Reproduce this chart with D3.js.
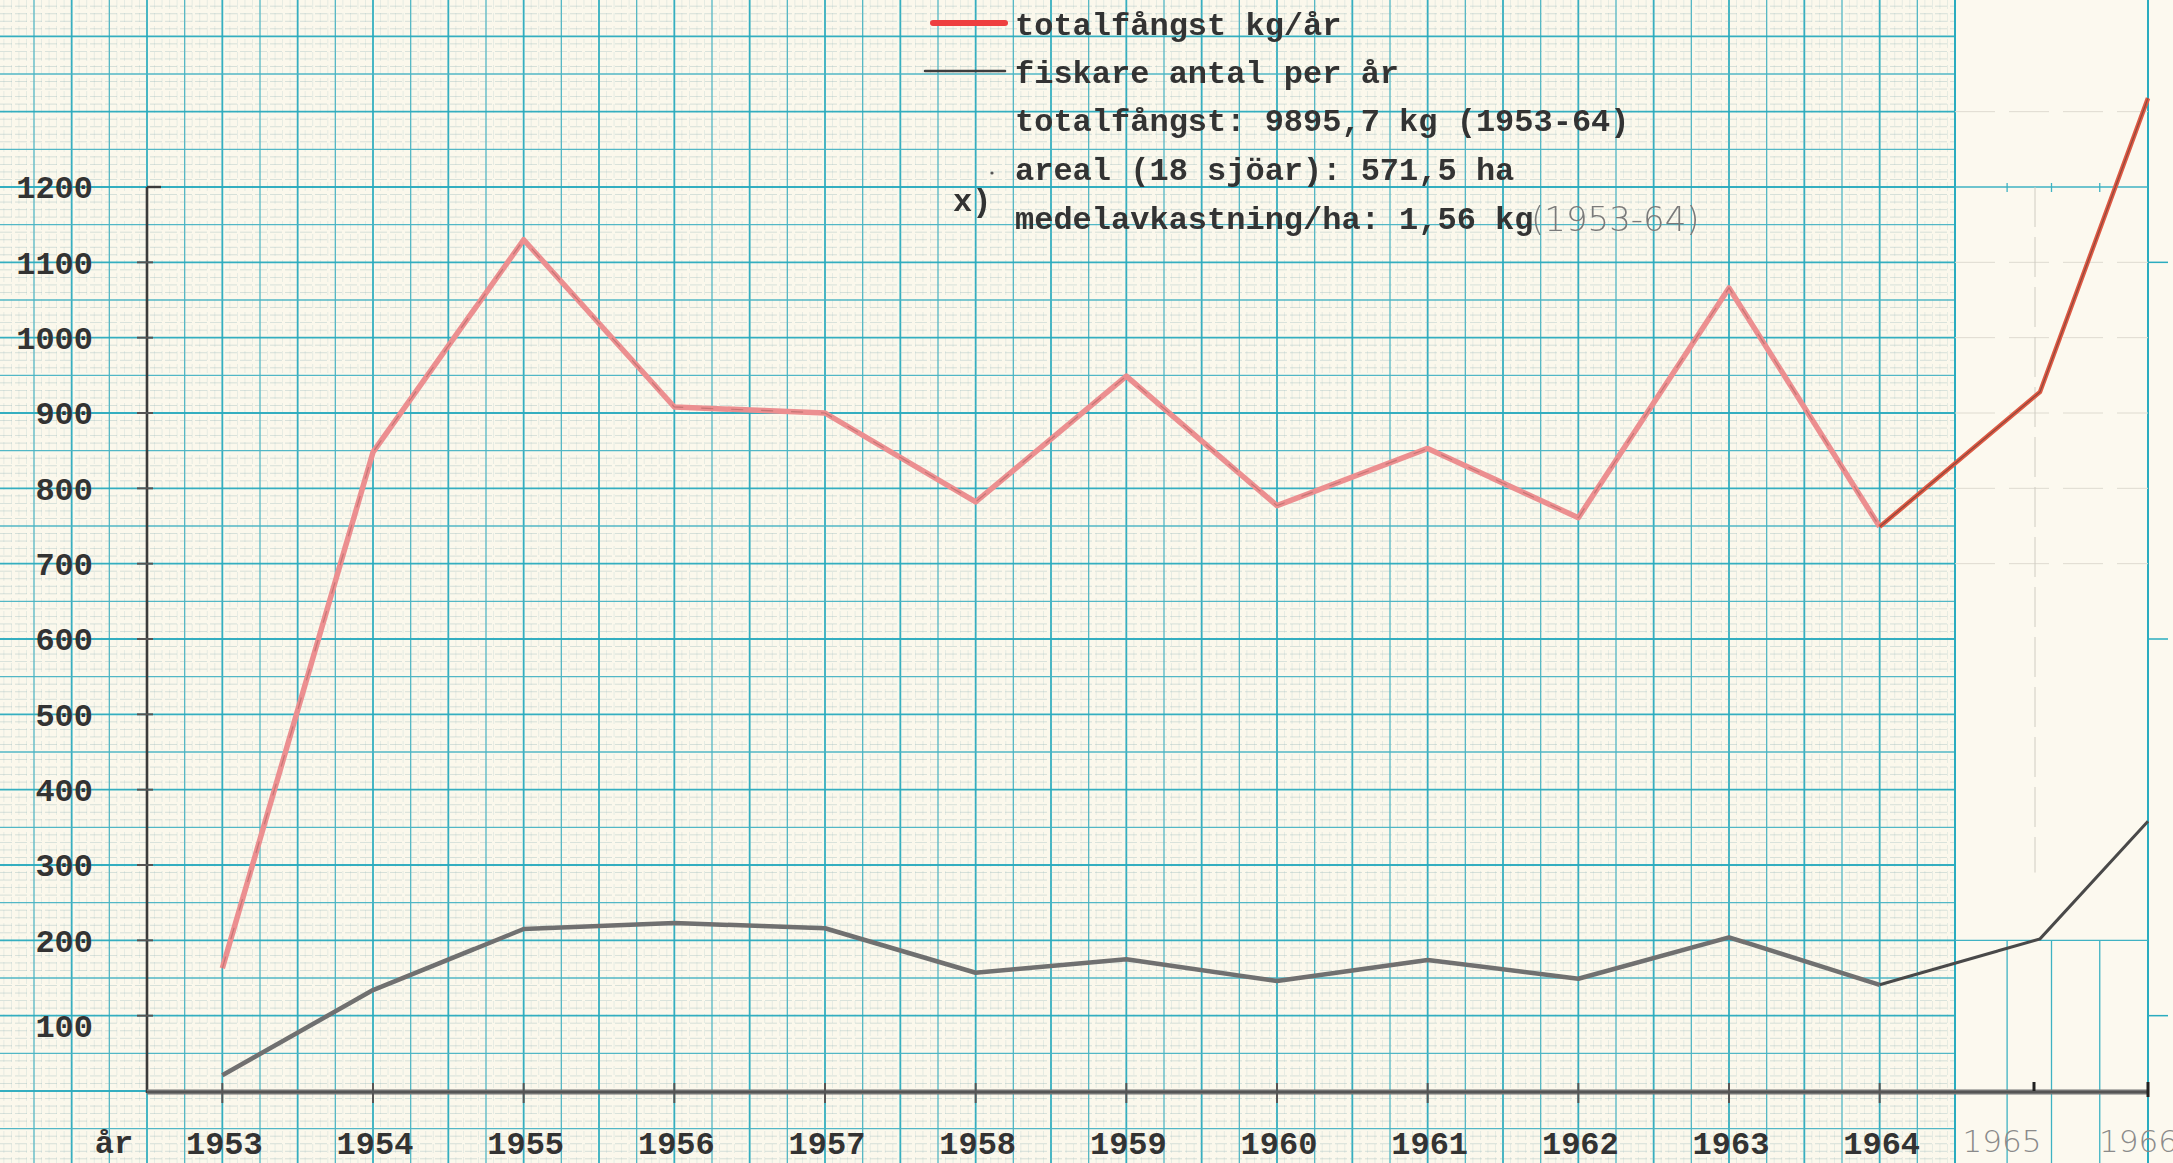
<!DOCTYPE html>
<html>
<head>
<meta charset="utf-8">
<script src="https://cdn.jsdelivr.net/npm/d3@7"></script>
<style>
  html, body { margin: 0; padding: 0; background: #fcf9ee; overflow: hidden; }
  svg { display: block; }
</style>
</head>
<body>
<svg id="chart"></svg>
<script>
// Data
const years = [1953, 1954, 1955, 1956, 1957, 1958, 1959, 1960, 1961, 1962, 1963, 1964, 1965, 1966];
const totalCatch = [163, 848, 1130, 908, 900, 782, 949, 777, 853, 761, 1066, 749, 928, 1318];
const fishers = [21, 134, 215, 223, 216, 157, 175, 146, 174, 149, 204, 141, 202, 358];
const yTicks = [100, 200, 300, 400, 500, 600, 700, 800, 900, 1000, 1100, 1200];
const typedYears = [1953, 1954, 1955, 1956, 1957, 1958, 1959, 1960, 1961, 1962, 1963, 1964];
const penYears = [1965, 1966];
const legendItems = ["totalfångst kg/år", "fiskare antal per år"];
const notes = ["totalfångst: 9895,7 kg (1953-64)", "areal (18 sjöar): 571,5 ha", "medelavkastning/ha: 1,56 kg"];
const noteTail = "(1953-64)";

// Page size
const width = 2173;
const height = 1163;

// Axis placement on the paper
const axisX = 147;
const baseY = 1091;
const topY = 187;
const cm = (baseY - topY) / 12;   // one centimetre of paper = 100 units
const mm = cm / 10;
const paperRight = axisX + 24 * cm;
const extRight = 2148;

const svg = d3.select('#chart')
    .attr('width', width)
    .attr('height', height);

// Scales
const yScale = d3.scaleLinear()
    .domain([0, 1200])
    .range([baseY, topY]);

// 2 cm per year on the main sheet, a glued-on strip for 1965-66
const xScale = d3.scaleLinear()
    .domain([1953, 1964, 1965, 1966])
    .range([axisX + cm, axisX + 23 * cm, 2040, extRight]);

const mono = "'Liberation Mono', 'DejaVu Sans Mono', monospace";
const thin = "'DejaVu Sans', sans-serif";
const ink = '#333';

// Pencil blur
const defs = svg.append('defs');
defs.append('filter').attr('id', 'pencil')
    .attr('x', '-5%').attr('y', '-5%').attr('width', '110%').attr('height', '110%')
    .append('feGaussianBlur').attr('stdDeviation', 0.7);

// Background
svg.append('rect').attr('width', width).attr('height', height).attr('fill', '#fcf9ef');
svg.append('rect').attr('width', paperRight).attr('height', height).attr('fill', '#fbf8ec');

// Graph paper grid
const grid = svg.append('g').attr('class', 'grid');
const iMin = Math.floor(-axisX / mm);
const iMax = Math.round((paperRight - axisX) / mm);
for (let i = iMin; i <= iMax; i++) {
    const x = axisX + i * mm;
    const kind = i % 10 === 0 ? 'major' : (i % 5 === 0 ? 'half' : 'fine');
    grid.append('line')
        .attr('x1', x).attr('x2', x).attr('y1', 0).attr('y2', height)
        .attr('stroke', kind === 'fine' ? '#9dbfc3' : (kind === 'major' ? '#2aabbe' : '#4ab4c4'))
        .attr('stroke-width', kind === 'major' ? 1.8 : (kind === 'half' ? 1.3 : 0.8))
        .attr('stroke-dasharray', kind === 'fine' ? '9,4' : null)
        .attr('opacity', kind === 'fine' ? 0.3 : 0.95);
}
const jMin = Math.floor(-topY / mm);
const jMax = Math.ceil((height - topY) / mm);
for (let j = jMin; j <= jMax; j++) {
    const y = topY + j * mm;
    const kind = j % 10 === 0 ? 'major' : (j % 5 === 0 ? 'half' : 'fine');
    grid.append('line')
        .attr('x1', 0).attr('x2', paperRight).attr('y1', y).attr('y2', y)
        .attr('stroke', kind === 'fine' ? '#8aaeb3' : (kind === 'major' ? '#2aabbe' : '#4ab4c4'))
        .attr('stroke-width', kind === 'major' ? 1.8 : (kind === 'half' ? 1.3 : 0.8))
        .attr('stroke-dasharray', kind === 'fine' ? '12,3' : null)
        .attr('opacity', kind === 'fine' ? 0.42 : 0.95);
}

// Extension strip (1965-66)
const ext = svg.append('g').attr('class', 'extension');
ext.append('line').attr('x1', paperRight).attr('x2', paperRight).attr('y1', 0).attr('y2', height)
    .attr('stroke', '#2aacbf').attr('stroke-width', 2);
ext.append('line').attr('x1', extRight).attr('x2', extRight).attr('y1', 0).attr('y2', height)
    .attr('stroke', '#2aacbf').attr('stroke-width', 2);
[1200, 200].forEach(v => {
    ext.append('line').attr('x1', paperRight).attr('x2', extRight)
        .attr('y1', yScale(v)).attr('y2', yScale(v))
        .attr('stroke', '#3fb2c3').attr('stroke-width', 1.3);
});
[1300, 1100, 1000, 900, 800, 700].forEach(v => {
    ext.append('line').attr('x1', paperRight).attr('x2', extRight)
        .attr('y1', yScale(v)).attr('y2', yScale(v))
        .attr('stroke', '#dedbd0').attr('stroke-width', 1).attr('stroke-dasharray', '40,14');
});
const stripCols = [0.27, 0.5, 0.75];
stripCols.forEach(f => {
    const x = paperRight + f * (extRight - paperRight);
    ext.append('line').attr('x1', x).attr('x2', x).attr('y1', yScale(200)).attr('y2', height)
        .attr('stroke', '#3fb2c3').attr('stroke-width', 1.3);
    ext.append('line').attr('x1', x).attr('x2', x).attr('y1', topY - 4).attr('y2', topY + 5)
        .attr('stroke', '#3fb2c3').attr('stroke-width', 1.3);
});
ext.append('line').attr('x1', xScale(1965) - 5).attr('x2', xScale(1965) - 5)
    .attr('y1', topY).attr('y2', yScale(290))
    .attr('stroke', '#cfccc2').attr('stroke-width', 1).attr('stroke-dasharray', '40,10');
[1100, 600, 100].forEach(v => {
    ext.append('line').attr('x1', extRight).attr('x2', extRight + 20)
        .attr('y1', yScale(v)).attr('y2', yScale(v))
        .attr('stroke', '#2aacbf').attr('stroke-width', 1.5);
});

// Axes (drawn by hand on the paper)
const axes = svg.append('g').attr('class', 'axes').attr('filter', 'url(#pencil)');
axes.append('line')
    .attr('x1', axisX).attr('x2', axisX).attr('y1', topY).attr('y2', baseY + 2)
    .attr('stroke', '#3a3a3a').attr('stroke-width', 2.6);
axes.append('line')
    .attr('x1', axisX).attr('x2', axisX + 14).attr('y1', topY).attr('y2', topY)
    .attr('stroke', '#3a3a3a').attr('stroke-width', 2.4);
axes.selectAll('.ytick')
    .data(yTicks.filter(d => d < 1200))
    .enter()
    .append('line')
    .attr('class', 'ytick')
    .attr('x1', axisX - 10).attr('x2', axisX + 6)
    .attr('y1', d => yScale(d)).attr('y2', d => yScale(d))
    .attr('stroke', '#555').attr('stroke-width', 2);
axes.append('line')
    .attr('x1', axisX).attr('x2', extRight).attr('y1', baseY + 1).attr('y2', baseY + 1)
    .attr('stroke', '#757575').attr('stroke-width', 5);
axes.append('line')
    .attr('x1', axisX).attr('x2', extRight).attr('y1', baseY + 1).attr('y2', baseY + 1)
    .attr('stroke', '#4a4a4a').attr('stroke-width', 1.5);
axes.selectAll('.xtick')
    .data(typedYears)
    .enter()
    .append('line')
    .attr('class', 'xtick')
    .attr('x1', d => xScale(d)).attr('x2', d => xScale(d))
    .attr('y1', baseY - 8).attr('y2', baseY + 12)
    .attr('stroke', '#555').attr('stroke-width', 2);
axes.selectAll('.xtick2')
    .data(penYears)
    .enter()
    .append('line')
    .attr('class', 'xtick2')
    .attr('x1', d => d === 1965 ? xScale(d) - 6 : xScale(d))
    .attr('x2', d => d === 1965 ? xScale(d) - 6 : xScale(d))
    .attr('y1', baseY - 9).attr('y2', d => d === 1966 ? baseY + 6 : baseY)
    .attr('stroke', '#222').attr('stroke-width', 3);

// Y tick labels
svg.append('g').selectAll('text')
    .data(yTicks)
    .enter()
    .append('text')
    .attr('x', axisX - 54)
    .attr('y', d => yScale(d) + (d === 100 ? 10 : 0))
    .attr('dy', '0.35em')
    .attr('text-anchor', 'end')
    .style('font-family', mono)
    .style('font-size', '32px')
    .style('font-weight', 'bold')
    .style('fill', ink)
    .text(d => d);

// X tick labels
svg.append('g').selectAll('text')
    .data(typedYears)
    .enter()
    .append('text')
    .attr('x', d => xScale(d) + 2)
    .attr('y', 1154)
    .attr('text-anchor', 'middle')
    .style('font-family', mono)
    .style('font-size', '32px')
    .style('font-weight', 'bold')
    .style('fill', ink)
    .text(d => d);

svg.append('text')
    .attr('x', axisX - 33)
    .attr('y', 1153)
    .attr('text-anchor', 'middle')
    .style('font-family', mono)
    .style('font-size', '32px')
    .style('font-weight', 'bold')
    .style('fill', ink)
    .text('år');

svg.append('g').selectAll('text')
    .data(penYears)
    .enter()
    .append('text')
    .attr('x', d => d === 1965 ? xScale(d) - 38 : xScale(d) - 49)
    .attr('y', 1152)
    .attr('text-anchor', d => d === 1965 ? 'middle' : 'start')
    .style('font-family', thin)
    .style('font-size', '31px')
    .style('font-weight', 200)
    .style('fill', '#8a8a8a')
    .text(d => d);

// Data lines
const catchData = years.map((y, i) => ({ year: y, value: totalCatch[i] }));
const fisherData = years.map((y, i) => ({ year: y, value: fishers[i] }));

const line = d3.line()
    .x(d => xScale(d.year))
    .y(d => yScale(d.value));

const lines = svg.append('g').attr('class', 'lines').attr('filter', 'url(#pencil)');

// fiskare antal per år
lines.append('path')
    .datum(fisherData.filter(d => d.year <= 1964))
    .attr('d', line)
    .attr('fill', 'none')
    .attr('stroke', '#707070')
    .attr('stroke-width', 4.5)
    .attr('stroke-linejoin', 'round');
lines.append('path')
    .datum(fisherData.filter(d => d.year >= 1964))
    .attr('d', line)
    .attr('fill', 'none')
    .attr('stroke', '#4a4a4a')
    .attr('stroke-width', 3);

// totalfångst kg/år
lines.append('path')
    .datum(catchData.filter(d => d.year <= 1964))
    .attr('d', line)
    .attr('fill', 'none')
    .attr('stroke', '#ec8f90')
    .attr('stroke-width', 5.5)
    .attr('stroke-linejoin', 'round');
lines.append('path')
    .datum(catchData.filter(d => d.year <= 1964))
    .attr('d', line)
    .attr('fill', 'none')
    .attr('stroke', '#a05a5a')
    .attr('stroke-width', 1.2)
    .attr('stroke-dasharray', '12,18')
    .attr('opacity', 0.5);
lines.append('path')
    .datum(catchData.filter(d => d.year >= 1964))
    .attr('d', line)
    .attr('fill', 'none')
    .attr('stroke', '#dd5a44')
    .attr('stroke-width', 4.5);
lines.append('path')
    .datum(catchData.filter(d => d.year >= 1964))
    .attr('d', line)
    .attr('fill', 'none')
    .attr('stroke', '#5a3a36')
    .attr('stroke-width', 1.2)
    .attr('opacity', 0.6);

// Legend
const legend = svg.append('g').attr('class', 'legend');
const swatchColors = ['#ee3f3f', '#3e3e3e'];
const swatchWidths = [6, 2.5];
legendItems.forEach((label, i) => {
    legend.append('line')
        .attr('x1', 933 - i * 8).attr('x2', 1005)
        .attr('y1', 23 + i * 48).attr('y2', 23 + i * 48)
        .attr('stroke', swatchColors[i])
        .attr('stroke-width', swatchWidths[i])
        .attr('stroke-linecap', 'round');
    legend.append('text')
        .attr('x', 1015)
        .attr('y', 35 + i * 48)
        .style('font-family', mono)
        .style('font-size', '32px')
        .style('font-weight', 'bold')
        .style('fill', ink)
        .text(label);
});
notes.forEach((note, i) => {
    legend.append('text')
        .attr('x', 1015)
        .attr('y', 131 + i * 49)
        .style('font-family', mono)
        .style('font-size', '32px')
        .style('font-weight', 'bold')
        .style('fill', ink)
        .text(note);
});
legend.append('text')
    .attr('x', 1531)
    .attr('y', 231)
    .style('font-family', thin)
    .style('font-size', '34px')
    .style('font-weight', 200)
    .style('fill', '#7a7a7a')
    .text(noteTail);
legend.append('text')
    .attr('x', 953)
    .attr('y', 211)
    .style('font-family', mono)
    .style('font-size', '32px')
    .style('font-weight', 'bold')
    .style('fill', ink)
    .text('x)');
legend.append('circle')
    .attr('cx', 992).attr('cy', 173).attr('r', 1.6)
    .attr('fill', '#555');
</script>
</body>
</html>
